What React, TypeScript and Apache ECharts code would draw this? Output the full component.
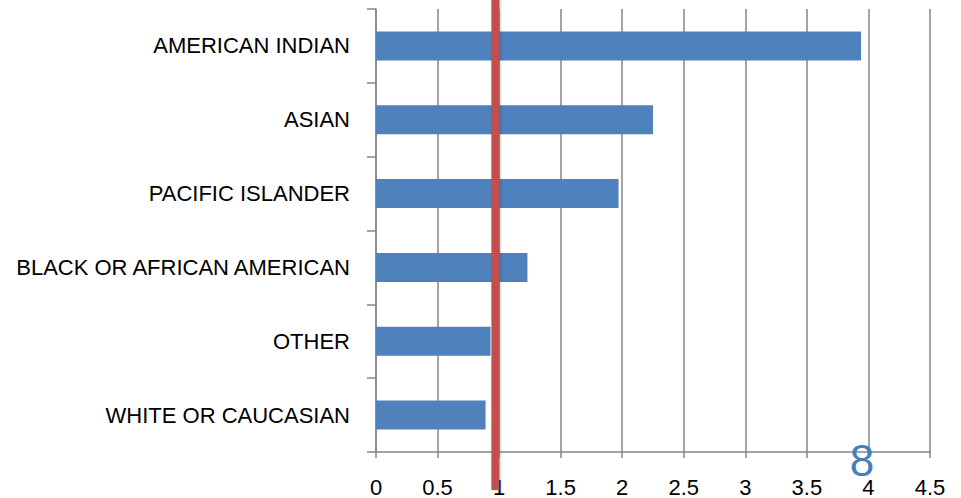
import React, { useEffect, useRef } from "react";
import * as echarts from "echarts";

// Categories listed bottom-to-top (category axis starts at the bottom)
const categories = [
  "WHITE OR CAUCASIAN",
  "OTHER",
  "BLACK OR AFRICAN AMERICAN",
  "PACIFIC ISLANDER",
  "ASIAN",
  "AMERICAN INDIAN",
];
const values = [0.89, 0.93, 1.23, 1.97, 2.25, 3.94];

const axisMin = 0;
const axisMax = 4.5;
const axisStep = 0.5;

// Vertical reference marker drawn across the plot
const referenceValue = 0.97;
const pageNumber = "8";

const BAR_COLOR = "#4f81bd";
const REF_COLOR = "#c0504d";
const GRID_COLOR = "#868686";
const FONT = "'Liberation Sans', Arial, sans-serif";

export default function App() {
  const ref = useRef<HTMLDivElement>(null);

  useEffect(() => {
    if (!ref.current) return;
    const chart = echarts.init(ref.current, null, { renderer: "svg" });
    chart.setOption({
      animation: false,
      backgroundColor: "#ffffff",
      grid: { left: 376, right: 31, top: 9, bottom: 46, containLabel: false },
      xAxis: {
        type: "value",
        min: axisMin,
        max: axisMax,
        interval: axisStep,
        axisLine: { show: true, lineStyle: { color: GRID_COLOR, width: 1.5 } },
        axisTick: { show: true, length: 6, lineStyle: { color: GRID_COLOR, width: 1.5 } },
        splitLine: { show: true, lineStyle: { color: GRID_COLOR, width: 1.5 } },
        axisLabel: {
          color: "#000",
          fontSize: 22,
          fontFamily: FONT,
          margin: 24,
          formatter: (v: number) => String(v),
        },
      },
      yAxis: {
        type: "category",
        data: categories,
        axisLine: { show: true, lineStyle: { color: GRID_COLOR, width: 1.5 } },
        axisTick: { show: true, length: 9, lineStyle: { color: GRID_COLOR, width: 1.5 } },
        axisLabel: { color: "#000", fontSize: 22, fontFamily: FONT, margin: 26 },
        splitLine: { show: false },
      },
      series: [
        {
          type: "bar",
          data: values,
          barWidth: 29,
          itemStyle: { color: BAR_COLOR },
        },
      ],
    });

    const refX = chart.convertToPixel({ xAxisIndex: 0 }, referenceValue) as number;
    chart.setOption({
      graphic: [
        {
          type: "rect",
          z: 100,
          shape: { x: refX - 4, y: 0, width: 8, height: 490 },
          style: {
            fill: REF_COLOR,
            shadowBlur: 3,
            shadowOffsetX: 1,
            shadowColor: "rgba(0,0,0,0.25)",
          },
        },
        {
          type: "text",
          z: 101,
          x: 862,
          y: 460,
          style: {
            text: pageNumber,
            fill: "#4a7ebb",
            fontSize: 44,
            fontFamily: FONT,
            align: "center",
            verticalAlign: "middle",
          },
        },
      ],
    });

    return () => chart.dispose();
  }, []);

  return (
    <div
      ref={ref}
      style={{ position: "fixed", left: 0, top: 0, width: 961, height: 498 }}
    />
  );
}
